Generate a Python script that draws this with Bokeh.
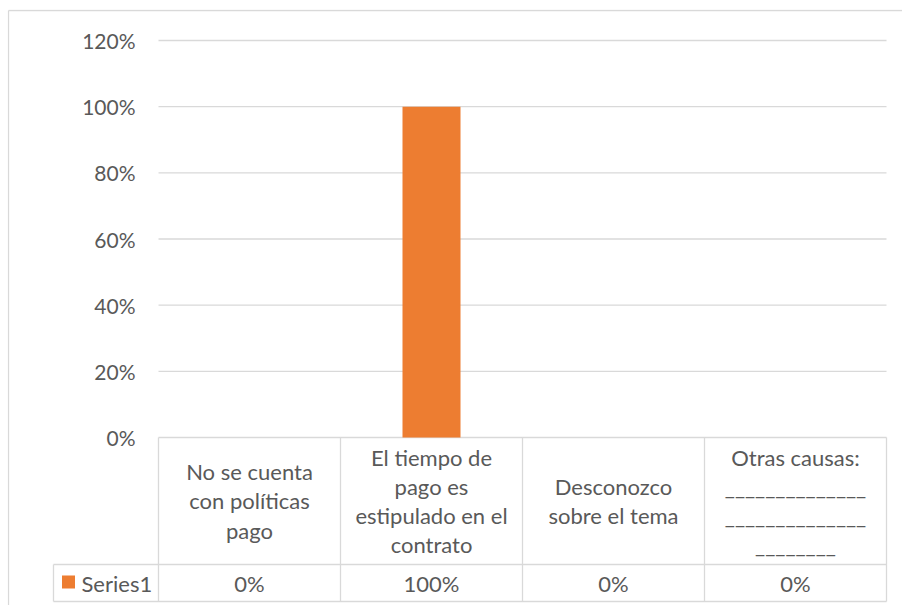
from bokeh.plotting import figure
from bokeh.models import FixedTicker, Range1d, NumeralTickFormatter
from bokeh.core.properties import value
from bokeh.embed import file_html
from bokeh.resources import INLINE

# ---------------- data ----------------
categories = [
    "No se cuenta\ncon políticas\npago",
    "El tiempo de\npago es\nestipulado en el\ncontrato",
    "Desconozco\nsobre el tema",
    "Otras causas:\n______________\n______________\n________",
]
series_name = "Series1"
values = [0.0, 1.0, 0.0, 0.0]
y_ticks = [0.0, 0.2, 0.4, 0.6, 0.8, 1.0, 1.2]

# ---------------- layout (page pixels) ----------------
FONT = "Lato"
TXT = "#595959"
GRID = "#d9d9d9"
BAR = "#ED7D31"
FS_AX = "21px"
FS = "22px"

ORIGIN = 1                          # observed page position of the canvas origin
W, H = 902, 605
FRAME_L, FRAME_T = 8, 10
FRAME_R, FRAME_B = ORIGIN + W, ORIGIN + H
PLOT_L, PLOT_R = 159, 887           # category area
Y0_PX, YMAX_PX = 438, 41            # pixel rows of 0 and of the top tick
ROW_SEP_PX, TABLE_BOT_PX = 565, 602
LEG_L_PX = 54

n = len(categories)
pxx = (PLOT_R - PLOT_L) / n
pxy = (Y0_PX - YMAX_PX) / max(y_ticks)

def dx(px):
    return (px - PLOT_L) / pxx

def dy(py):
    return (Y0_PX - py) / pxy

p = figure(width=W, height=H, output_backend="svg", toolbar_location=None,
           x_range=Range1d(dx(FRAME_L), dx(FRAME_R)),
           y_range=Range1d(dy(FRAME_B), dy(FRAME_T)),
           min_border_left=FRAME_L - ORIGIN, min_border_top=FRAME_T - ORIGIN,
           min_border_right=0, min_border_bottom=0)
p.background_fill_color = "white"
p.border_fill_color = "white"
p.outline_line_color = None
p.xgrid.visible = False
p.ygrid.visible = False
p.xaxis.visible = False

ya = p.yaxis[0]
ya.fixed_location = 0
ya.ticker = FixedTicker(ticks=y_ticks)
ya.formatter = NumeralTickFormatter(format="0%")
ya.axis_line_color = None
ya.major_tick_line_color = None
ya.minor_tick_line_color = None
ya.major_tick_out = 0
ya.major_tick_in = 0
ya.major_label_standoff = 23
ya.major_label_text_font = FONT
ya.major_label_text_font_size = FS_AX
ya.major_label_text_color = TXT

centers = [i + 0.5 for i in range(n)]

# chart-area border (left and top edges; right/bottom fall outside the window)
p.segment(x0=[dx(FRAME_L + 1), dx(FRAME_L + 1)], x1=[dx(FRAME_L + 1), dx(FRAME_R)],
          y0=[dy(FRAME_T + 1), dy(FRAME_T + 1)], y1=[dy(FRAME_B), dy(FRAME_T + 1)],
          line_color=GRID, line_width=1.3)

# gridlines
p.segment(x0=[0] * len(y_ticks), x1=[n] * len(y_ticks), y0=y_ticks, y1=y_ticks,
          line_color=GRID, line_width=1.3)

# bars
p.vbar(x=centers, top=values, bottom=0, width=58 / pxx, fill_color=BAR, line_color=None)

# data table lines
row_sep = dy(ROW_SEP_PX)
tbot = dy(TABLE_BOT_PX)
leg_l = dx(LEG_L_PX)
p.segment(x0=[leg_l, leg_l], x1=[n, n], y0=[row_sep, tbot], y1=[row_sep, tbot],
          line_color=GRID, line_width=1.3)
xs = list(range(n + 1))
p.segment(x0=xs, x1=xs, y0=[0] * len(xs), y1=[tbot] * len(xs),
          line_color=GRID, line_width=1.3)
p.segment(x0=[leg_l], x1=[leg_l], y0=[row_sep], y1=[tbot], line_color=GRID, line_width=1.3)

# header texts
p.text(x=centers, y=[dy((Y0_PX + ROW_SEP_PX) / 2)] * n, text=categories,
       text_align="center", text_baseline="middle", text_font=value(FONT),
       text_font_size=FS, text_color=TXT, text_line_height=1.08)

# value texts
row_c = dy((ROW_SEP_PX + TABLE_BOT_PX) / 2)
p.text(x=centers, y=[row_c] * n, text=[f"{v:.0%}" for v in values],
       text_align="center", text_baseline="middle", text_font=value(FONT),
       text_font_size=FS, text_color=TXT)

# legend key in table
p.scatter(x=[dx(69)], y=[dy(582.5)], marker="square", size=13,
          fill_color=BAR, line_color=None)
p.text(x=[dx(82)], y=[row_c], text=[series_name], text_align="left",
       text_baseline="middle", text_font=value(FONT), text_font_size=FS, text_color=TXT)

open("out.html", "w").write(file_html(p, INLINE))
